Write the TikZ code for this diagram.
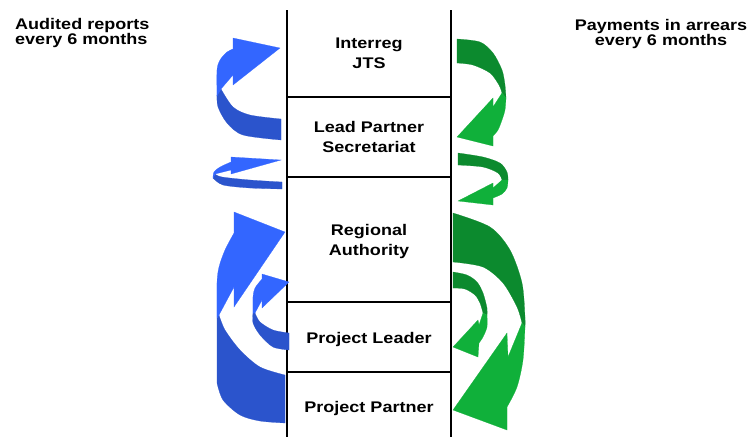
\documentclass[tikz,border=0pt]{standalone}
\usepackage{fontspec}
\setmainfont{Liberation Sans}[FakeStretch=1.17]
\definecolor{bluelight}{RGB}{51,102,255}
\definecolor{bluedark}{RGB}{43,84,204}
\definecolor{greenlight}{RGB}{16,176,58}
\definecolor{greendark}{RGB}{12,138,46}
\tikzset{
  rail/.style={line width=1.6pt, black},
  boxtext/.style={font=\bfseries\fontsize{15.4}{19.5}\selectfont, align=center, inner sep=0pt},
  hdrtext/.style={font=\bfseries\fontsize{15.4}{15}\selectfont, inner sep=0pt},
  backface/.style={draw=#1, line width=0.2pt, fill=#1},
  frontface/.style={draw=#1, line width=0.2pt, fill=#1},
}
\begin{document}
\begin{tikzpicture}[x=1pt,y=-1pt]
\useasboundingbox (0,0) rectangle (749,437);
\fill[white] (0,0) rectangle (749,437);

% column frame
\coordinate (lt) at (287,10);
\coordinate (lb) at (287,437);
\coordinate (rt) at (451,10);
\coordinate (rb) at (451,437);
\draw[rail] (lt) -- (lb);
\draw[rail] (rt) -- (rb);
\foreach \n/\y in {a/97,b/177,c/302,d/372}{
  \coordinate (div\n l) at (287,\y);
  \coordinate (div\n r) at (451,\y);
  \draw[rail] (div\n l) -- (div\n r);
}

% level labels
\node[boxtext] (jts) at (369,53.5) {Interreg\\JTS};
\node[boxtext] (lps) at (369,137) {Lead Partner\\Secretariat};
\node[boxtext] (ra) at (369,241.5) {Regional\\Authority};
\node[boxtext, anchor=base] (pl) at (369,343) {Project Leader};
\node[boxtext, anchor=base] (pp) at (369,412) {Project Partner};

% side headings
\node[hdrtext, align=left, anchor=west] (audit) at (15,33) {Audited reports\\every 6 months};
\node[hdrtext, align=center] (pay) at (661,34) {Payments in arrears\\every 6 months};

% ---- blue reporting arrows (left side) ----
% top
\path[backface=bluedark] (221,89) -- plot[smooth] coordinates {(221,89) (233,107) (250,115) (281,119)} -- (281,140)
  -- plot[smooth] coordinates {(281,140) (243,135) (227,123) (218,107) (217,95)} -- cycle;
\path[frontface=bluelight] (217,96) -- plot[smooth] coordinates {(217,96) (217,70) (220,60) (227,52) (233,49)}
  -- (233,38) -- (280,48) -- (233,85) -- (233,75) -- (221,89) -- cycle;
% middle
\path[backface=bluedark] (215,174) -- plot[smooth] coordinates {(215,174) (222,177) (250,180) (282,182)} -- (282,189)
  -- plot[smooth] coordinates {(282,189) (250,188) (223,185) (213,178)} -- cycle;
\path[frontface=bluelight] (213,178) -- plot[smooth] coordinates {(213,178) (214,172) (220,167) (231,162)}
  -- (231,157) -- (281,160) -- (231,174) -- (231,170) -- (215,174) -- cycle;
% large
\path[backface=bluedark] (219,315) -- plot[smooth] coordinates {(219,315) (225,330) (240,350) (260,367) (285,375)} -- (285,423)
  -- plot[smooth] coordinates {(285,423) (260,421) (240,415) (223,400) (217,383)} -- (217,318) -- cycle;
\path[frontface=bluelight] (217,318) -- plot[smooth] coordinates {(217,318) (217,283) (219,267) (225,250) (234,233)}
  -- (234,212) -- (285,232) -- (234,307) -- (234,287) -- (219,315) -- cycle;
% small
\path[backface=bluedark] (255,313) -- plot[smooth] coordinates {(255,313) (260,322) (273,330) (289,333)} -- (289,350)
  -- plot[smooth] coordinates {(289,350) (273,347) (260,335) (253,323) (253,313)} -- cycle;
\path[frontface=bluelight] (253,313) -- plot[smooth] coordinates {(253,313) (253,297) (255,288) (262,279)}
  -- (262,274) -- (289,282) -- (262,308) -- (262,300) -- (255,313) -- cycle;

% ---- green payment arrows (right side) ----
% top
\path[backface=greendark] (457,39) -- plot[smooth] coordinates {(457,39) (480,42) (493,53) (502,70) (505,85) (506,98)}
  -- (502,93) -- plot[smooth] coordinates {(502,93) (499,85) (490,73) (473,65) (457,63)} -- cycle;
\path[frontface=greenlight] (506,98) -- plot[smooth] coordinates {(506,98) (505,110) (502,120) (498,130) (493,136)}
  -- (493,146) -- (457,137) -- (493,98) -- (493,107) -- (502,93) -- cycle;
% middle
\path[backface=greendark] (458,153) -- plot[smooth] coordinates {(458,153) (483,157) (500,163) (507,172) (508,180)}
  -- (502,180) -- plot[smooth] coordinates {(502,180) (498,173) (483,167) (458,165)} -- cycle;
\path[frontface=greenlight] (508,180) -- plot[smooth] coordinates {(508,180) (507,188) (502,194) (493,198)}
  -- (493,205) -- (458,201) -- (493,183) -- (493,188) -- (502,180) -- cycle;
% large
\path[backface=greendark] (453,213) -- plot[smooth] coordinates {(453,213) (490,227) (510,250) (522,283) (525,317) (525,327)}
  -- (522,323) -- plot[smooth] coordinates {(522,323) (517,307) (503,283) (483,267) (453,262)} -- cycle;
\path[frontface=greenlight] (525,327) -- plot[smooth] coordinates {(525,327) (523,360) (517,387) (507,407)}
  -- (507,430) -- (453,410) -- (507,333) -- (508,357) -- (522,323) -- cycle;
% small
\path[backface=greendark] (453,272) -- plot[smooth] coordinates {(453,272) (467,275) (477,282) (483,293) (487,308) (487,315)}
  -- (483,313) -- plot[smooth] coordinates {(483,313) (480,303) (475,295) (465,289) (453,288)} -- cycle;
\path[frontface=greenlight] (487,315) -- plot[smooth] coordinates {(487,315) (487,327) (483,337) (479,343)}
  -- (478,357) -- (453,347) -- (478,320) -- (479,325) -- (483,313) -- cycle;
\end{tikzpicture}
\end{document}
